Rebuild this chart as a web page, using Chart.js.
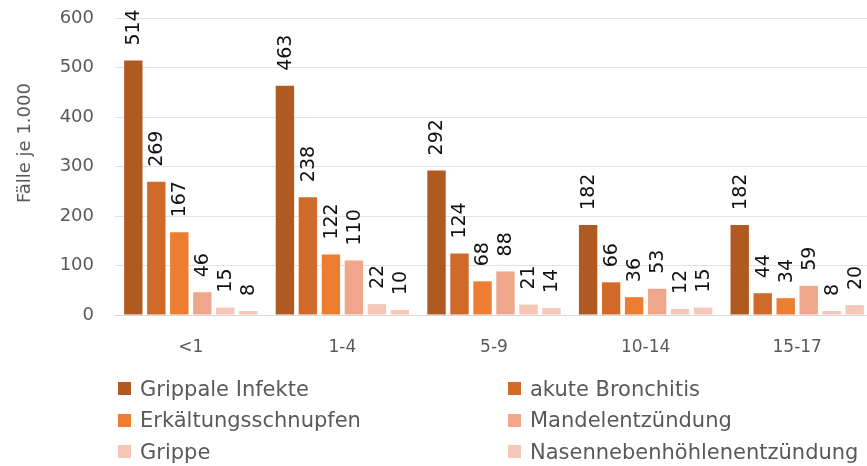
<!DOCTYPE html>
<html>
<head>
<meta charset="utf-8">
<script src="https://cdn.jsdelivr.net/npm/chart.js@4.4.1/dist/chart.umd.min.js"></script>
<style>
html,body{margin:0;padding:0;background:#fff;overflow:hidden;width:867px;height:466px;}
#wrap{position:relative;width:874px;height:466px;}
#c{display:block;}
#legend{position:absolute;left:118px;top:373px;display:grid;grid-template-columns:390px 360px;grid-auto-rows:31.5px;font-family:"DejaVu Sans",sans-serif;font-size:21px;color:#595959;}
#legend .item{display:flex;align-items:center;white-space:nowrap;}
#legend .box{width:13px;height:13px;margin-right:9px;flex:none;}
</style>
</head>
<body>
<div id="wrap">
<canvas id="c" width="874" height="466"></canvas>
<div id="legend"></div>
</div>
<script>
const categories = ["<1", "1-4", "5-9", "10-14", "15-17"];
const seriesNames = ["Grippale Infekte", "akute Bronchitis", "Erkältungsschnupfen", "Mandelentzündung", "Grippe", "Nasennebenhöhlenentzündung"];
const grippaleInfekte = [514, 463, 292, 182, 182];
const akuteBronchitis = [269, 238, 124, 66, 44];
const erkaeltungsschnupfen = [167, 122, 68, 36, 34];
const mandelentzuendung = [46, 110, 88, 53, 59];
const grippe = [15, 22, 21, 12, 8];
const nasennebenhoehlen = [8, 10, 14, 15, 20];
const yTicks = [0, 100, 200, 300, 400, 500, 600];
const yTitle = "Fälle je 1.000";

const seriesValues = [grippaleInfekte, akuteBronchitis, erkaeltungsschnupfen, mandelentzuendung, grippe, nasennebenhoehlen];
const colors = ["#B05A22", "#D06A28", "#ED7D31", "#F0A68A", "#F6C6B6", "#F5C8B9"];
const FONT = "'DejaVu Sans', sans-serif";

const datasets = seriesNames.map((n, i) => ({
  label: n,
  data: seriesValues[i],
  backgroundColor: colors[i],
  borderWidth: 0,
  categoryPercentage: 0.91,
  barPercentage: 0.8
}));

const labelPlugin = {
  id: 'valueLabels',
  afterDatasetsDraw(chart) {
    const ctx = chart.ctx;
    ctx.save();
    ctx.fillStyle = '#111';
    ctx.font = "19px " + FONT;
    ctx.textAlign = 'left';
    ctx.textBaseline = 'middle';
    chart.data.datasets.forEach((ds, di) => {
      const meta = chart.getDatasetMeta(di);
      meta.data.forEach((el, i) => {
        ctx.save();
        ctx.translate(el.x, el.y - 15);
        ctx.rotate(-Math.PI / 2);
        ctx.fillText(String(ds.data[i]), 0, 1);
        ctx.restore();
      });
    });
    ctx.restore();
  },
  afterDraw(chart) {
    const ctx = chart.ctx;
    ctx.save();
    ctx.fillStyle = '#595959';
    ctx.font = "18px " + FONT;
    ctx.textAlign = 'center';
    ctx.textBaseline = 'middle';
    ctx.translate(25, 143);
    ctx.rotate(-Math.PI / 2);
    ctx.fillText(yTitle, 0, 0);
    ctx.restore();
  }
};

new Chart(document.getElementById('c'), {
  type: 'bar',
  data: { labels: categories, datasets },
  options: {
    responsive: false,
    animation: false,
    devicePixelRatio: 1,
    layout: { padding: { top: 18, right: 1, left: 0, bottom: 0 } },
    plugins: { legend: { display: false }, tooltip: { enabled: false } },
    scales: {
      x: {
        grid: { display: false, drawTicks: false },
        border: { display: true, color: '#d9d9d9', width: 1 },
        ticks: { color: '#595959', font: { family: FONT, size: 17 }, padding: 22 },
        afterFit(s) { s.height = 151; s.paddingLeft = 0; s.paddingRight = 0; }
      },
      y: {
        min: 0, max: 600,
        afterBuildTicks(s) { s.ticks = yTicks.map(v => ({ value: v })); },
        grid: { color: '#e2e2e2', lineWidth: 1, drawTicks: false },
        border: { display: false },
        ticks: { color: '#595959', font: { family: FONT, size: 18 }, padding: 21 },
        afterFit(s) { s.width = 115; s.paddingTop = 0; s.paddingBottom = 0; }
      }
    }
  },
  plugins: [labelPlugin]
});

const lg = document.getElementById('legend');
seriesNames.forEach((n, i) => {
  const it = document.createElement('div');
  it.className = 'item';
  const b = document.createElement('span');
  b.className = 'box';
  b.style.background = colors[i];
  const t = document.createElement('span');
  t.textContent = n;
  it.appendChild(b); it.appendChild(t);
  lg.appendChild(it);
});
</script>
</body>
</html>
